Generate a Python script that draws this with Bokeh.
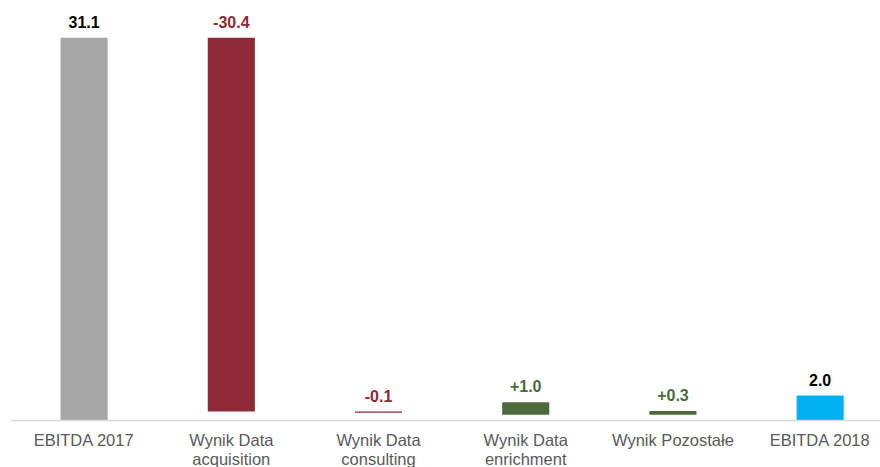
from bokeh.plotting import figure
from bokeh.models import ColumnDataSource, Range1d, FixedTicker, LabelSet
from bokeh.core.properties import value
from bokeh.embed import file_html
from bokeh.resources import INLINE

# ---- data ----
categories = ["EBITDA 2017", "Wynik Data\nacquisition", "Wynik Data\nconsulting",
              "Wynik Data\nenrichment", "Wynik Pozostałe", "EBITDA 2018"]
values = [31.1, -30.4, -0.1, 1.0, 0.3, 2.0]
bases = [0.0, 31.1, 0.7, 0.45, 0.45, 0.0]
value_labels = ["31.1", "-30.4", "-0.1", "+1.0", "+0.3", "2.0"]
bar_colors = ["#A6A6A6", "#8E2A36", "#8E2A36", "#4C6A3B", "#4C6A3B", "#00B0F0"]
label_colors = ["#000000", "#8E2A36", "#8E2A36", "#4C6A3B", "#4C6A3B", "#000000"]

xs = list(range(len(categories)))
bottoms = [min(b, b + v) for b, v in zip(bases, values)]
tops = [max(b, b + v) for b, v in zip(bases, values)]

src = ColumnDataSource(dict(x=xs, bottom=bottoms, top=tops, color=bar_colors,
                            label=value_labels, lcolor=label_colors))

p = figure(width=880, height=467, output_backend="svg", toolbar_location=None,
           x_range=Range1d(-0.5, 5.41), y_range=Range1d(-3.85, 34.13),
           min_border_left=10, min_border_right=0, min_border_top=0,
           min_border_bottom=0,
           background_fill_color="white", border_fill_color="white")
p.outline_line_color = None
p.grid.visible = False
p.yaxis.visible = False

p.vbar(x="x", bottom="bottom", top="top", width=0.32, color="color",
       line_color=None, source=src)

labels = LabelSet(x="x", y="top", text="label", source=src, y_offset=10,
                  text_align="center", text_baseline="bottom",
                  text_color="lcolor", text_font=value("Liberation Sans"),
                  text_font_size="16px", text_font_style="bold")
p.add_layout(labels)

xa = p.xaxis[0]
xa.fixed_location = 0
xa.ticker = FixedTicker(ticks=xs)
xa.major_label_overrides = {i: c for i, c in zip(xs, categories)}
xa.major_tick_line_color = None
xa.minor_tick_line_color = None
xa.axis_line_color = "#D9D9D9"
xa.axis_line_width = 1.5
xa.major_label_text_font = "Liberation Sans"
xa.major_label_text_font_size = "16.5px"
xa.major_label_text_color = "#595959"
xa.major_label_standoff = 5
xa.major_label_text_line_height = 1.05

html = file_html(p, INLINE)
open("out.html", "w").write(html)
